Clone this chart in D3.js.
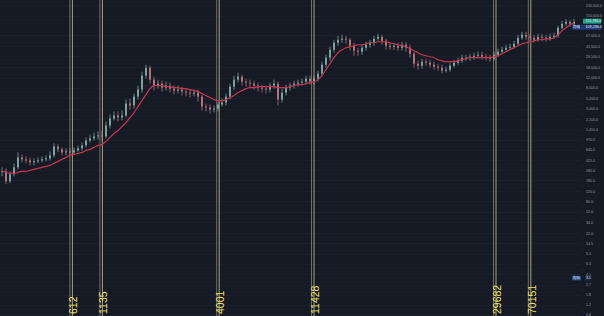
<!DOCTYPE html>
<html>
<head>
<meta charset="utf-8">
<script src="https://cdn.jsdelivr.net/npm/d3@7"></script>
<style>
  html, body { margin: 0; padding: 0; background: #161a25; }
  svg { display: block; font-family: "Liberation Sans", "Noto Sans CJK SC", sans-serif; }
</style>
</head>
<body>
<svg id="chart" width="604" height="316"></svg>
<script>
// closing prices, one per bar
const closes = [
  268, 179, 237, 315, 472, 436, 418, 386, 402, 418, 436, 454, 512, 737, 653, 578,
  602, 578, 627, 680, 768, 940, 1020, 1106, 1151, 1106, 1726, 2291, 2587, 2386, 2587, 4200,
  3880, 5580, 7410, 13050, 18040, 11100, 8710, 9440, 8030, 8710, 7710, 7110, 7410, 6830, 6560, 6300,
  6560, 5580, 3720, 3580, 3300, 3430, 4040, 4380, 5580, 8360, 11100, 12540, 10240, 9830, 9440, 8710,
  8030, 7710, 7410, 8710, 9440, 4940, 6560, 8030, 8710, 9440, 9830, 10240, 11560, 10240, 11560, 14150,
  20370, 27040, 37380, 49630, 56030, 58350, 56030, 43950, 35900, 34480, 40530, 45770, 49630, 58350, 63270, 53810,
  43950, 42210, 43950, 40530, 45770, 40530, 31800, 21210, 19560, 23000, 22090, 20370, 18790, 18040, 15980, 16640,
  19560, 22090, 23950, 27040, 27040, 28160, 29320, 30530, 28160, 27040, 25970, 30530, 34480, 37380, 40530, 42210,
  47660, 60760, 68600, 63270, 60760, 56030, 63270, 60760, 58350, 63270, 65880, 91070, 107080, 116100, 107080, 115781
];

const highs = [
  315, 302, 268, 370, 578, 533, 492, 472, 454, 472, 492, 512, 602, 833, 800, 708,
  680, 680, 708, 768, 867, 1062, 1199, 1300, 1354, 1410, 2029, 2694, 3040, 3040, 3170, 4940,
  5150, 6300, 8710, 15350, 20370, 19560, 12540, 11100, 10660, 10240, 9830, 8710, 8710, 8360, 7710, 7410,
  7410, 7410, 6050, 4200, 4040, 3880, 4560, 5150, 6300, 9440, 13050, 14740, 13590, 11560, 11100, 10660,
  9830, 9070, 8710, 9830, 11100, 10240, 7710, 9070, 9830, 10660, 11100, 11560, 13050, 13050, 13050, 15980,
  23000, 30530, 42210, 56030, 65880, 68600, 65880, 60760, 49630, 40530, 45770, 51680, 56030, 65880, 71440, 68600,
  58350, 49630, 49630, 49630, 51680, 51680, 45770, 34480, 23950, 25970, 25970, 24940, 23000, 21210, 20370, 18790,
  22090, 24940, 27040, 30530, 30530, 31800, 33110, 34480, 34480, 31800, 30530, 34480, 38930, 42210, 45770, 47660,
  53810, 68600, 77460, 77460, 71440, 68600, 71440, 71440, 68600, 71440, 74390, 98750, 120900, 131100, 125900, 131100
];

const lows = [
  219, 159, 165, 219, 290, 386, 370, 341, 341, 370, 386, 402, 418, 472, 578, 512,
  512, 492, 533, 578, 627, 708, 867, 940, 979, 940, 1020, 1528, 2113, 2029, 2113, 2386,
  3300, 3430, 4940, 6560, 11560, 9440, 7110, 7710, 6830, 7110, 6560, 6050, 6300, 5810, 5580, 5360,
  5580, 4560, 3170, 3040, 2805, 2920, 3040, 3720, 3880, 4940, 7410, 9830, 8710, 8360, 8030, 7410,
  6830, 6560, 6300, 6560, 7710, 3880, 4380, 5810, 7110, 7710, 8360, 8710, 9070, 9070, 9070, 10240,
  12540, 18040, 23950, 33110, 43950, 49630, 47660, 35900, 29320, 29320, 30530, 35900, 40530, 43950, 53810, 45770,
  37380, 37380, 37380, 35900, 35900, 34480, 27040, 18040, 16640, 17330, 19560, 18040, 16640, 15980, 14150, 14740,
  15350, 18040, 20370, 22090, 23950, 23950, 24940, 25970, 24940, 23950, 23000, 23950, 28160, 31800, 34480, 37380,
  38930, 43950, 56030, 56030, 53810, 49630, 51680, 53810, 51680, 53810, 58350, 60760, 83990, 98750, 94830, 98750
];

// long moving average (red line), same bars
const maLine = [
  268, 257, 247, 247, 257, 268, 268, 279, 290, 302, 315, 328, 341, 370, 402, 436,
  472, 512, 533, 555, 578, 627, 653, 708, 768, 800, 903, 1062, 1248, 1410, 1657, 1949,
  2386, 2920, 3720, 4750, 6050, 7710, 8710, 8710, 8710, 8360, 8360, 8030, 8030, 7710, 7710, 7410,
  7110, 6830, 6300, 5810, 5360, 4940, 4750, 4750, 4940, 5360, 5810, 6560, 7110, 7710, 8030, 8030,
  8360, 8360, 8360, 8360, 8360, 8030, 8030, 8030, 8360, 8710, 9070, 9070, 9440, 9830, 10240, 11100,
  13050, 16640, 21210, 27040, 33110, 37380, 40530, 42210, 43950, 45770, 45770, 47660, 49630, 49630, 51680, 51680,
  51680, 49630, 47660, 45770, 43950, 42210, 38930, 35900, 33110, 30530, 29320, 28160, 27040, 24940, 23950, 23000,
  23000, 23000, 23950, 24940, 25970, 27040, 27040, 27040, 27040, 27040, 27040, 28160, 29320, 31800, 34480, 37380,
  40530, 43950, 47660, 49630, 51680, 53810, 56030, 56030, 58350, 58350, 60760, 68600, 80660, 91070, 102830, 109296
];

// vertical marker lines (bar position) and their labels
const markerLabels = ['612', '1135', '4001', '11428', '29682', '70151'];
const markerAt = [17.6, 25.1, 54.3, 78.0, 123.5, 132.2];

// price scale ticks
const priceTicks = [230000, 150000, 67000, 43500, 28500, 18500, 12000, 8000, 5200, 3400, 2200, 1450,
  970, 645, 425, 280, 185, 120, 80, 52, 34, 22, 14.5, 9.5, 6.3, 4.1, 2.7, 1.8, 1.2, 0.8];

const lastPrice = 115781.0;
const maValue = 109296.4;
const lowTagValue = 3.5;

const W = 604, H = 316;
const svg = d3.select('#chart');

svg.append('rect').attr('width', W).attr('height', H).attr('fill', '#161a25');

const x = d3.scaleLinear().domain([0, closes.length - 1]).range([2, 574]);
const y = d3.scaleLog().domain([0.8, 230000]).range([314.5, 5]);

// faint grid
svg.append('g').selectAll('line').data(priceTicks).join('line')
  .attr('x1', 0).attr('x2', 580)
  .attr('y1', d => Math.round(y(d)) + 0.5).attr('y2', d => Math.round(y(d)) + 0.5)
  .attr('stroke', '#1a1f2c').attr('stroke-width', 1);

// marker lines
const mk = svg.append('g');
markerAt.forEach((m, i) => {
  const mx = x(m);
  mk.append('line').attr('x1', mx - 2.5).attr('x2', mx - 2.5).attr('y1', 0).attr('y2', H)
    .attr('stroke', '#6e6d62').attr('stroke-width', 1);
  mk.append('line').attr('x1', mx).attr('x2', mx).attr('y1', 0).attr('y2', H)
    .attr('stroke', '#a8a276').attr('stroke-width', 1);
  mk.append('text')
    .attr('transform', `translate(${mx + 1},314) rotate(-90)`)
    .attr('dominant-baseline', 'central')
    .style('font-size', '10.5px')
    .style('fill', '#f0e16c')
    .text(markerLabels[i]);
});

// candles (open = previous close)
const cg = svg.append('g');
closes.forEach((c, i) => {
  const o = i ? closes[i - 1] : c;
  const col = c >= o ? '#8ab6b0' : '#c4808c';
  cg.append('line')
    .attr('x1', x(i)).attr('x2', x(i))
    .attr('y1', y(highs[i])).attr('y2', y(lows[i]))
    .attr('stroke', col).attr('stroke-width', 0.8).attr('stroke-opacity', 0.85);
  const top = y(Math.max(o, c)), bot = y(Math.min(o, c));
  cg.append('rect')
    .attr('x', x(i) - 0.8).attr('width', 1.6)
    .attr('y', top).attr('height', Math.max(0.8, bot - top))
    .attr('fill', col);
});

// moving average
svg.append('path')
  .datum(maLine)
  .attr('d', d3.line().x((d, i) => x(i)).y(d => y(d)).curve(d3.curveMonotoneX))
  .attr('fill', 'none')
  .attr('stroke', '#c5364b')
  .attr('stroke-width', 1.2);

// right price axis
const ax = svg.append('g')
  .attr('transform', 'translate(585,0)')
  .call(d3.axisRight(y).tickValues(priceTicks).tickFormat(d3.format(',.1f')).tickSize(0));
ax.select('.domain').remove();
ax.selectAll('text').attr('x', 1).style('font-size', '3.6px').style('fill', '#979ba6')
  .attr('font-family', null);

// price tags
const tagG = svg.append('g').style('font-size', '3.7px');
const gy = y(lastPrice);
tagG.append('rect').attr('x', 583).attr('y', gy - 3.2).attr('width', 18).attr('height', 5)
  .attr('fill', '#1f9b86');
tagG.append('text').attr('x', 585.5).attr('y', gy - 0.7).attr('dominant-baseline', 'central')
  .style('fill', '#e8f5f2').text(d3.format(',.1f')(lastPrice));

const by = Math.max(y(maValue), gy + 5.4);
tagG.append('rect').attr('x', 581).attr('y', by - 2.5).attr('width', 20).attr('height', 5)
  .attr('fill', '#1d3a74');
tagG.append('text').attr('x', 585.5).attr('y', by).attr('dominant-baseline', 'central')
  .style('fill', '#e6ecf8').text(d3.format(',.1f')(maValue));
tagG.append('rect').attr('x', 572.5).attr('y', by - 2.2).attr('width', 8).attr('height', 4.4)
  .attr('fill', '#2a4b8c');
tagG.append('text').attr('x', 576.5).attr('y', by).attr('text-anchor', 'middle')
  .attr('dominant-baseline', 'central').style('font-size', '3.4px').style('fill', '#dfe6f5').text('均线');

const ly = y(lowTagValue);
tagG.append('rect').attr('x', 585).attr('y', ly - 2.3).attr('width', 5).attr('height', 4.6)
  .attr('fill', '#1d2c4d');
tagG.append('text').attr('x', 586).attr('y', ly).attr('dominant-baseline', 'central')
  .style('fill', '#d7def0').text(lowTagValue.toFixed(1));
tagG.append('rect').attr('x', 572).attr('y', ly - 2.2).attr('width', 9).attr('height', 4.4)
  .attr('fill', '#2a4b8c');
tagG.append('text').attr('x', 576.5).attr('y', ly).attr('text-anchor', 'middle')
  .attr('dominant-baseline', 'central').style('font-size', '3.4px').style('fill', '#dfe6f5').text('指标');
</script>
</body>
</html>
